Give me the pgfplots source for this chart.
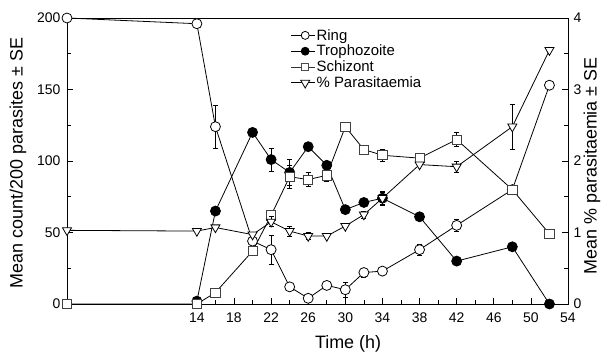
\documentclass[border=0pt]{standalone}
\usepackage{fontspec}
\setmainfont{Liberation Sans}
\usepackage{pgfplots}
\pgfplotsset{compat=1.18}
\begin{document}
\begin{tikzpicture}
\useasboundingbox (-67bp,-49bp) rectangle (546bp,304bp);
\pgfplotsset{
  every axis/.append style={
    scale only axis, width=501bp, height=286bp,
    xmin=0, xmax=54,
    /pgf/number format/assume math mode=true,
    tick label style={font=\fontsize{14}{16}\selectfont},
    tick align=inside,
    major tick length=6bp, minor tick length=4bp,
    tick style={black, line width=0.6pt},
    axis line style={line width=0.8pt},
    error bars/error bar style={line width=0.6pt},
    error bars/error mark options={rotate=90, mark size=2.5bp, line width=0.6pt},
  },
}
\begin{axis}[
  at={(0,0)}, anchor=origin,
  ymin=0, ymax=200,
  ytick={0,50,100,150,200}, minor ytick={25,75,125,175},
  xtick={14,18,...,54}, minor xtick={16,20,...,52},
  xtick pos=bottom, ytick pos=left,
  xticklabel style={yshift=-5bp},
  yticklabel style={xshift=-3bp},
  xlabel={Time (h)},
  ylabel={Mean count/200 parasites ± SE},
  every axis x label/.style={at={(axis description cs:0.561,-0.14)}, anchor=center, font=\fontsize{18}{20}\selectfont},
  every axis y label/.style={at={(axis description cs:-0.098,0.493)}, rotate=90, anchor=center, font=\fontsize{18}{20}\selectfont},
  clip=false,
]
% Ring
\addplot[black, line width=0.8pt, mark=*, mark size=5bp, mark options={solid, fill=white, draw=black, line width=0.8pt},
  error bars/.cd, y dir=both, y explicit] coordinates {
  (0,200) (14,196) (16,124) +- (0,15) (20,44) (22,38) +- (0,10) (24,12) (26,4) +- (0,2)
  (28,13) (30,10) +- (0,5) (32,22) +- (0,3) (34,23) (38,38) +- (0,4) (42,55) +- (0,4)
  (48,80) (52,153)
};
% Trophozoite
\addplot[black, line width=0.8pt, mark=*, mark size=5bp, mark options={solid, fill=black, draw=black, line width=0.8pt},
  error bars/.cd, y dir=both, y explicit] coordinates {
  (14,2) (16,65) (20,120) (22,101) +- (0,8) (24,92) +- (0,9) (26,110) (28,97)
  (30,66) (32,71) (34,74) +- (0,5) (38,61) (42,30) (48,40) (52,0)
};
% Schizont
\addplot[black, line width=0.8pt, mark=square*, mark size=4.6bp, mark options={solid, fill=white, draw=black!75, line width=0.8pt},
  error bars/.cd, y dir=both, y explicit] coordinates {
  (0,0) (14,0) (16,8) (20,37) (22,62) +- (0,3) (24,89) +- (0,8) (26,87) +- (0,5)
  (28,90) +- (0,4) (30,124) (32,108) (34,104) +- (0,4) (38,102) (42,115) +- (0,5)
  (48,80) (52,49)
};
\end{axis}
\begin{axis}[
  at={(0,0)}, anchor=origin,
  ymin=0, ymax=4,
  axis x line=none, axis y line*=right,
  ytick={0,1,2,3,4}, minor ytick={0.5,1.5,2.5,3.5},
  yticklabel style={xshift=2bp},
  ylabel={Mean \% parasitaemia ± SE},
  every axis y label/.style={at={(axis description cs:1.048,0.483)}, rotate=90, anchor=center, font=\fontsize{18}{20}\selectfont},
  legend style={draw=none, fill=none, at={(axis cs:24.1,3.86)}, anchor=north west,
    font=\fontsize{15}{17}\selectfont, row sep=1.5bp, inner sep=0pt,
    nodes={inner sep=1bp}},
  legend cell align=left,
  legend image code/.code={
    \draw[#1, mark=none] (0bp,0bp) -- (24bp,0bp);
    \draw[#1] plot coordinates {(14bp,0bp)};},
  clip=false,
]
\addlegendimage{black, line width=0.8pt, mark=*, mark size=4bp, mark options={fill=white, solid}}
\addlegendentry{Ring}
\addlegendimage{black, line width=0.8pt, mark=*, mark size=4bp, mark options={fill=black, solid}}
\addlegendentry{Trophozoite}
\addlegendimage{black!80, line width=0.8pt, mark=square*, mark size=3.6bp, mark options={fill=white, draw=black!70, solid}}
\addlegendentry{Schizont}
\addplot[black, line width=0.8pt, mark=triangle*, mark size=5.2bp, mark options={solid, fill=white, draw=black, rotate=180, line width=0.8pt},
  error bars/.cd, y dir=both, y explicit] coordinates {
  (0,1.03) (14,1.02) (16,1.07) (20,0.97) (22,1.15) +- (0,0.07) (24,1.02) +- (0,0.07)
  (26,0.95) +- (0,0.05) (28,0.95) (30,1.09) (32,1.25) +- (0,0.05) (34,1.48) +- (0,0.08)
  (38,1.95) (42,1.92) +- (0,0.08) (48,2.48) +- (0,0.32) (52,3.55)
};
\addlegendentry{\% Parasitaemia}
\end{axis}
\end{tikzpicture}
\end{document}
